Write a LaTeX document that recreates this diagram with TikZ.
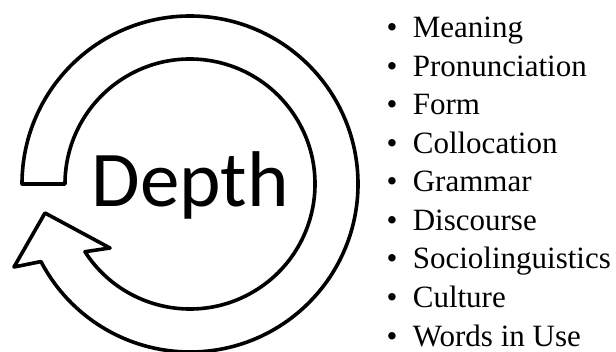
\documentclass[tikz,border=0pt]{standalone}
\usepackage{fontspec}
\usetikzlibrary{calc}
\setmainfont{Liberation Serif}
\newfontfamily\calib{Carlito}
\begin{document}
\begin{tikzpicture}[x=1pt,y=1pt,
  ringline/.style={line width=3.6pt,line join=round,draw=black,fill=white},
  item/.style={anchor=base west,inner sep=0pt,font=\fontsize{31}{31}\selectfont}]
\useasboundingbox (0,0) rectangle (616,351);
\coordinate (c) at (190,167);
\coordinate (tip) at (14,84);
\coordinate (hA) at (45,138);
\coordinate (hB) at (110,103);
\draw[ringline] ($(c)+(180:168)$) arc[start angle=180,end angle=-152.5,radius=168]
  -- (tip) -- (hA) -- (hB) -- ($(c)+(-147.2:125)$)
  arc[start angle=-147.2,end angle=180,radius=125] -- cycle;
\node[anchor=base,inner sep=0pt,font=\calib\fontsize{79}{79}\selectfont] (depth) at (190,144) {Depth};
\foreach \t [count=\i from 0] in {Meaning,Pronunciation,Form,Collocation,Grammar,Discourse,Sociolinguistics,Culture,Words in Use}{
  \node[item] (l\i) at (386.5,{313-38.5*\i}) {\textbullet\hspace{15.3pt}\t};
}
\end{tikzpicture}
\end{document}
